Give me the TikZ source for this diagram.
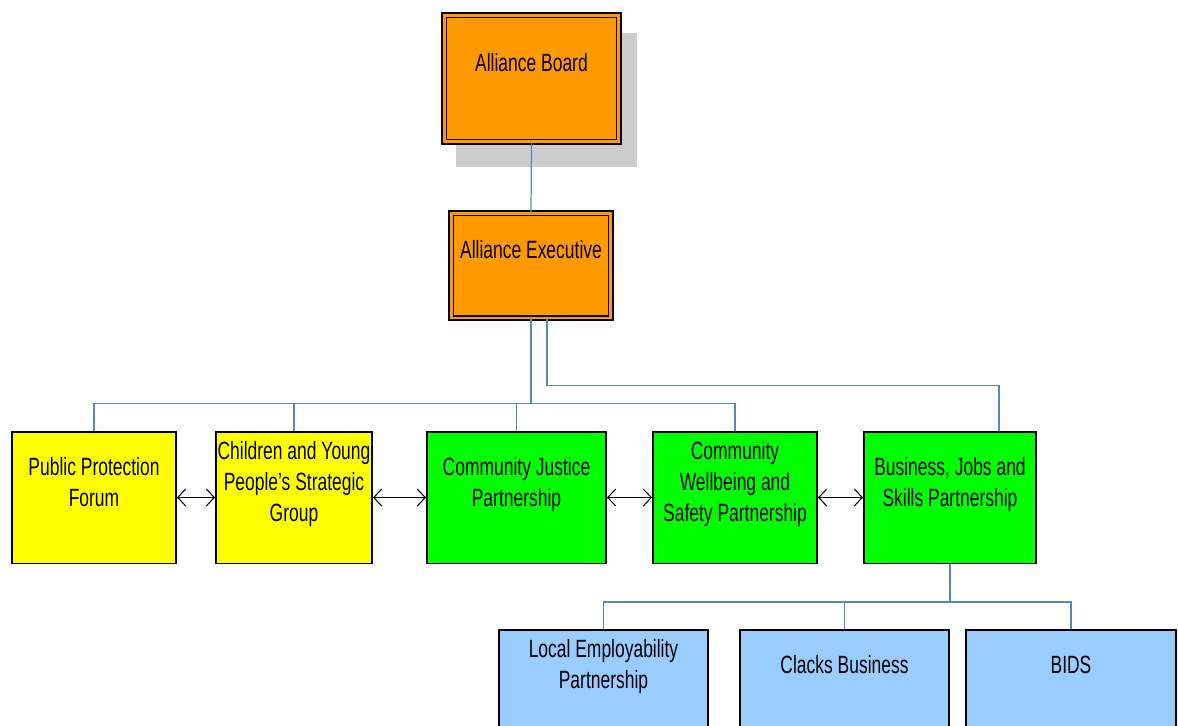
\documentclass[tikz,border=0pt]{standalone}
\usepackage{fontspec}
\setmainfont[FakeStretch=0.7]{Liberation Sans}
\usepackage{tikz}
\usetikzlibrary{arrows.meta,positioning}
\definecolor{boardorange}{RGB}{255,153,0}
\definecolor{leadyellow}{RGB}{255,255,0}
\definecolor{partgreen}{RGB}{0,255,0}
\definecolor{linkblue}{RGB}{84,135,197}
\definecolor{subblue}{RGB}{153,204,255}
\definecolor{shadowgray}{RGB}{204,204,204}
\newcommand{\boxtext}[1]{\raisebox{0pt}[\height][\dimexpr\depth+0.52cm\relax]{\begin{tabular}{@{}c@{}}#1\end{tabular}}}

\begin{document}
\begin{tikzpicture}[x=0.02cm,y=-0.02cm,
  unit/.style={draw,line width=0.85pt,inner sep=0pt,
               font=\fontsize{14.2}{17.6}\selectfont},
  alliance/.style={unit,fill=boardorange,double=boardorange,double distance=0.06cm},
  leadgroup/.style={unit,fill=leadyellow,minimum height=2.63cm},
  partnership/.style={unit,fill=partgreen,minimum height=2.63cm},
  subgroup/.style={unit,fill=subblue,minimum height=2cm},
  link/.style={draw=linkblue,line width=0.7pt},
  peer/.style={{Straight Barb[length=0.16cm,width=0.34cm]}-{Straight Barb[length=0.16cm,width=0.34cm]},
               line width=0.6pt}]

\useasboundingbox (0,0) rectangle (1178,725);
\clip (0,0) rectangle (1178,725);

\fill[shadowgray] (456,33) rectangle (637,167);

\node[alliance,minimum width=3.5cm,minimum height=2.54cm] (AB) at (531.5,78.5) {\boxtext{Alliance Board}};
\node[alliance,minimum width=3.2cm,minimum height=2.1cm] (AE) at (531,265.5) {\boxtext{Alliance Executive}};

\node[leadgroup,minimum width=3.29cm] (PPF) at (94,497.5)    {\boxtext{Public Protection\\Forum}};
\node[leadgroup,minimum width=3.13cm] (CYP) at (294,497.5)   {\boxtext{Children and Young\\People’s Strategic\\Group}};
\node[partnership,minimum width=3.59cm] (CJP) at (516.5,497.5) {\boxtext{Community Justice\\Partnership}};
\node[partnership,minimum width=3.29cm] (CWS) at (735,497.5)   {\boxtext{Community\\Wellbeing and\\Safety Partnership}};
\node[partnership,minimum width=3.45cm] (BJS) at (950,497.5)   {\boxtext{Business, Jobs and\\Skills Partnership}};

\node[subgroup,minimum width=4.19cm] (LEP)  at (603.5,680) {\boxtext{Local Employability\\Partnership}};
\node[subgroup,minimum width=4.19cm] (CB)   at (844.5,680) {\boxtext{Clacks Business}};
\node[subgroup,minimum width=4.21cm] (BIDS) at (1071,680)  {\boxtext{BIDS}};

% reporting lines
\draw[link] (AB.south) -- (AE.north);
\foreach \g in {PPF,CYP,CJP,CWS}
  \draw[link] (AE.south) -- ++(0,85) -| (\g.north);
\draw[link] ([xshift=0.32cm]AE.south) -- ++(0,67) -| ([xshift=0.98cm]BJS.north);
\foreach \s in {LEP,CB,BIDS}
  \draw[link] (BJS.south) -- ++(0,38) -| (\s.north);

% links between groups
\draw[peer] (PPF) -- (CYP);
\draw[peer] (CYP) -- (CJP);
\draw[peer] (CJP) -- (CWS);
\draw[peer] (CWS) -- (BJS);
\end{tikzpicture}
\end{document}
